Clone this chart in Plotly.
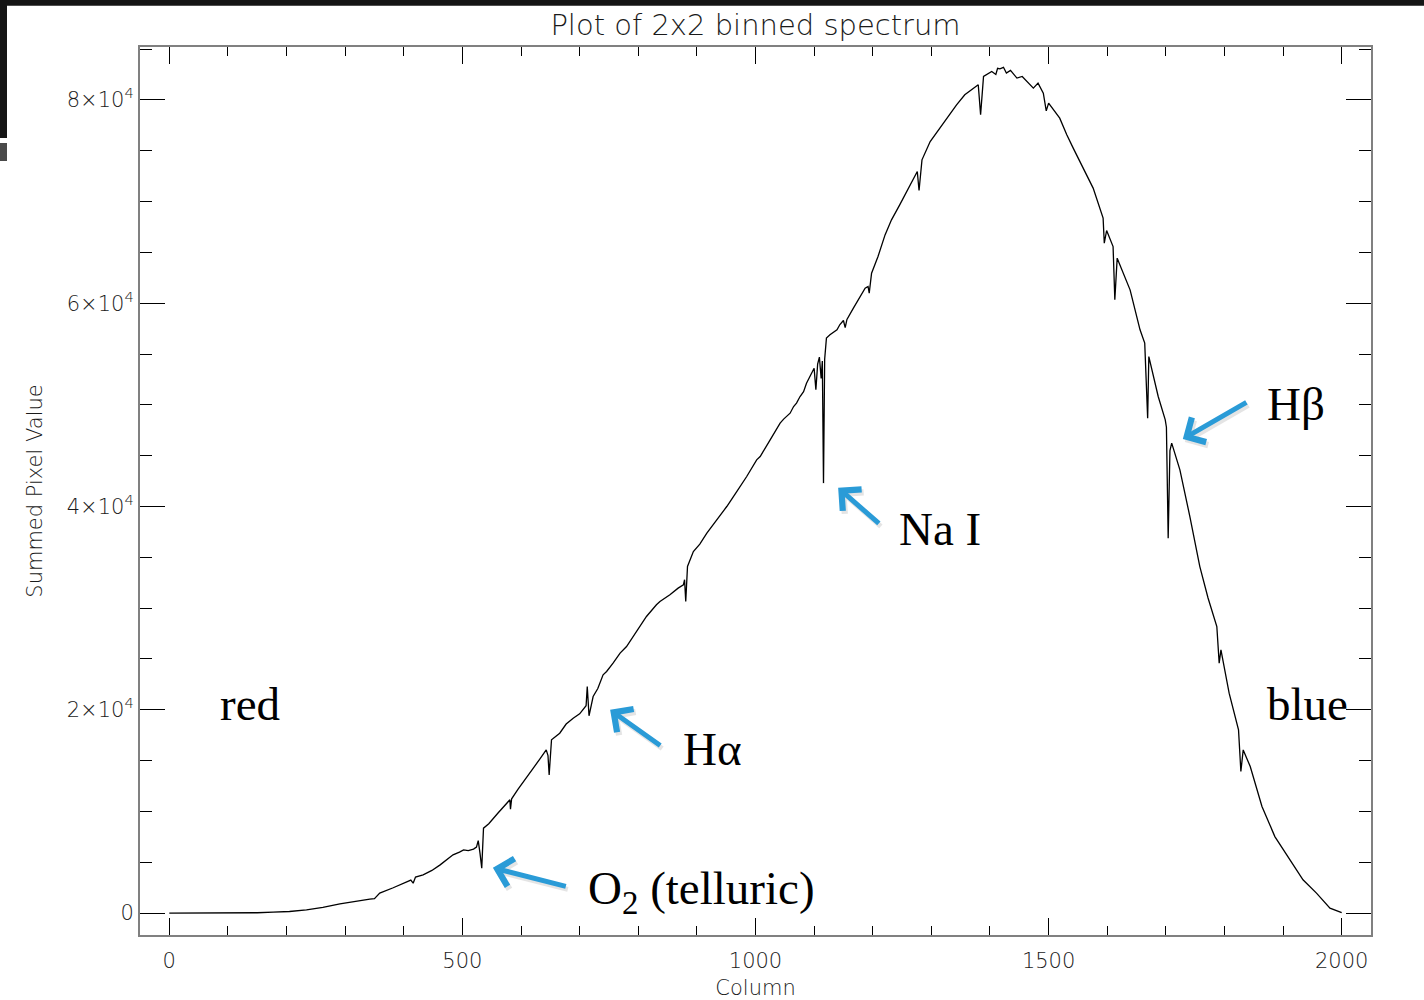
import plotly.graph_objects as go

# ---- data ----
column = [0, 40, 80, 120, 150, 177, 205, 234, 262, 291, 320, 342, 350, 359, 382, 405, 412, 416, 420,
          433, 448, 462, 475, 484, 495, 502, 510, 519, 524, 527, 530, 533, 536, 545, 560, 575, 581, 582,
          584, 595, 604, 620, 632, 643, 646, 648, 652, 666, 677, 689, 700, 706, 711, 713, 716, 723, 731,
          740, 746, 757, 769, 780, 797, 814, 831, 837, 854, 868, 877, 879, 881, 884, 894, 905, 917, 934,
          951, 968, 985, 1002, 1008, 1025, 1042, 1048, 1059, 1065, 1070, 1076, 1082, 1087, 1093, 1096,
          1100, 1103, 1106, 1109, 1112, 1114, 1116, 1118, 1121, 1127, 1135, 1139, 1144, 1150, 1153, 1156,
          1167, 1175, 1187, 1192, 1194, 1198, 1209, 1221, 1232, 1246, 1264, 1276, 1279, 1284, 1298, 1312,
          1326, 1343, 1357, 1372, 1380, 1384, 1389, 1403, 1410, 1413, 1417, 1423, 1428, 1435, 1446, 1455,
          1463, 1474, 1482, 1491, 1496, 1500, 1519, 1531, 1542, 1559, 1576, 1593, 1595, 1599, 1610, 1613,
          1617, 1639, 1656, 1664, 1669, 1671, 1687, 1699, 1701, 1704, 1707, 1710, 1724, 1741, 1758, 1772,
          1787, 1791, 1794, 1808, 1824, 1828, 1832, 1844, 1864, 1886, 1912, 1934, 1957, 1980, 2000]
summed = [0, 10, -10, 20, 40, 100, 160, 325, 560, 915, 1210, 1380, 1420, 1970, 2500, 3110, 3250, 2950, 3550,
          3770, 4200, 4750, 5300, 5735, 6000, 6220, 6150, 6300, 6500, 7140, 5900, 4430, 8360, 8800, 9800,
          10700, 11150, 10230, 11250, 12200, 12950, 14200, 15150, 16060, 15500, 13600, 17050, 17700, 18600,
          19180, 19600, 20000, 20400, 22290, 19410, 21310, 22100, 23440, 23770, 24590, 25580, 26230, 27700,
          29180, 30330, 30650, 31310, 31970, 32290, 32800, 30650, 34100, 35570, 36300, 37380, 38690, 40000,
          41470, 42950, 44590, 44920, 46560, 48200, 48600, 49180, 49830, 50170, 50820, 51300, 52130, 52780,
          53120, 53600, 51500, 54000, 54700, 52600, 54300, 42300, 54500, 56560, 56890, 57200, 57380, 57900,
          58300, 57600, 58400, 59510, 60300, 61480, 61640, 60990, 62950, 64590, 66720, 68200, 69670, 71640,
          72950, 71080, 74100, 75900, 77050, 78200, 79510, 80500, 81150, 81480, 78530, 82300, 82790, 82500,
          83100, 83050, 83200, 82630, 82900, 82140, 82300, 81800, 81150, 81650, 80660, 78920, 79680, 78200,
          76560, 75250, 73280, 71320, 68370, 65900, 67150, 65570, 60330, 64430, 61310, 57380, 56070, 48690,
          54750, 50820, 48520, 47800, 36890, 45500, 46230, 43610, 39010, 34090, 31000, 28190, 24590, 25900,
          21640, 18030, 13930, 16060, 14420, 10490, 7530, 5240, 3280, 1970, 490, 60]

x_major = [0, 500, 1000, 1500, 2000]
y_major = [0, 20000, 40000, 60000, 80000]
y_major_text = ["0", "2×10<sup>4</sup>", "4×10<sup>4</sup>", "6×10<sup>4</sup>", "8×10<sup>4</sup>"]

# label texts with arrow ends and text anchor positions (data units)
labels = ["O<sub>2</sub> (telluric)", "Hα", "Na I", "Hβ"]
arrow_head_x = [552, 752, 1141, 1729]
arrow_head_y = [4456, 20000, 41840, 46630]
arrow_tail_x = [679, 840, 1213, 1840]
arrow_tail_y = [2597, 16390, 38200, 50330]
label_x = [710, 873, 1241, 1870]
label_y = [2140, 16110, 37750, 50050]
side_labels = ["red", "blue"]
side_x = [83, 1870]
side_y = [20540, 20540]

SANS = "DejaVu Sans, Open Sans, sans-serif"
AX_FONT = dict(family=SANS, size=21, color="#1a1a1a", weight=200)
SERIF = dict(family="Liberation Serif, Times New Roman, serif", size=47, color="black")
BLUE = "rgb(42,155,215)"

fig = go.Figure()
fig.add_trace(go.Scatter(x=column, y=summed, mode="lines",
                         line=dict(color="black", width=1.3), showlegend=False, hoverinfo="skip"))

annotations = []
for hx, hy, tx, ty in zip(arrow_head_x, arrow_head_y, arrow_tail_x, arrow_tail_y):
    # soft shadow
    annotations.append(dict(x=hx, y=hy, ax=tx, ay=ty, xref="x", yref="y", axref="x", ayref="y",
                            text="", showarrow=True, arrowhead=4, arrowsize=1.1, arrowwidth=5,
                            arrowcolor="rgba(0,0,0,0.10)", xshift=2, yshift=-3))
    annotations.append(dict(x=hx, y=hy, ax=tx, ay=ty, xref="x", yref="y", axref="x", ayref="y",
                            text="", showarrow=True, arrowhead=4, arrowsize=1.1, arrowwidth=5,
                            arrowcolor=BLUE))
for t, lx, ly in zip(labels + side_labels, label_x + side_x, label_y + side_y):
    annotations.append(dict(x=lx, y=ly, xref="x", yref="y", text=t, showarrow=False,
                            xanchor="left", yanchor="middle", font=SERIF))

# screenshot frame artefacts (dark bars at the top and left edges)
shapes = [
    dict(type="rect", xref="paper", yref="paper", x0=-0.1140, x1=1.0440, y0=1.04651, y1=1.0535,
         line=dict(width=0), fillcolor="#151515", layer="above"),
    dict(type="rect", xref="paper", yref="paper", x0=-0.1140, x1=-0.10804, y0=0.89752, y1=1.0535,
         line=dict(width=0), fillcolor="#151515", layer="above"),
    dict(type="rect", xref="paper", yref="paper", x0=-0.1140, x1=-0.10804, y0=0.87162, y1=0.89189,
         line=dict(width=0), fillcolor="#4a4a4a", layer="above"),
]

fig.update_layout(
    width=1424, height=1000,
    margin=dict(l=140, r=53, t=47, b=65, autoexpand=False),
    paper_bgcolor="white", plot_bgcolor="white",
    title=dict(text="Plot of 2x2 binned spectrum", x=0.5, xref="paper", xanchor="center",
               y=0.975, yref="container", yanchor="middle",
               font=dict(family=SANS, size=29, color="#1a1a1a", weight=200)),
    annotations=annotations,
    shapes=shapes,
    font=AX_FONT,
)

fig.update_xaxes(
    range=[-50, 2050], showgrid=False, zeroline=False, automargin=False,
    showline=True, linecolor="#808080", linewidth=2, mirror="allticks",
    tickmode="array", tickvals=x_major, ticks="inside", ticklen=17, tickwidth=1.2,
    tickcolor="black", tickfont=AX_FONT, ticklabelstandoff=6,
    minor=dict(dtick=100, tick0=0, ticks="inside", ticklen=9, tickwidth=1.2, tickcolor="black",
               showgrid=False),
    title=dict(text="Column", font=AX_FONT, standoff=9),
)
fig.update_yaxes(
    range=[-2150, 85200], showgrid=False, zeroline=False, automargin=False,
    showline=True, linecolor="#808080", linewidth=2, mirror="allticks",
    tickmode="array", tickvals=y_major, ticktext=y_major_text,
    ticks="inside", ticklen=25, tickwidth=1.2, tickcolor="black", tickfont=AX_FONT,
    minor=dict(dtick=5000, tick0=0, ticks="inside", ticklen=12, tickwidth=1.2, tickcolor="black",
               showgrid=False),
    title=dict(text="Summed Pixel Value", font=AX_FONT, standoff=18),
)

fig.write_html("out.html")
